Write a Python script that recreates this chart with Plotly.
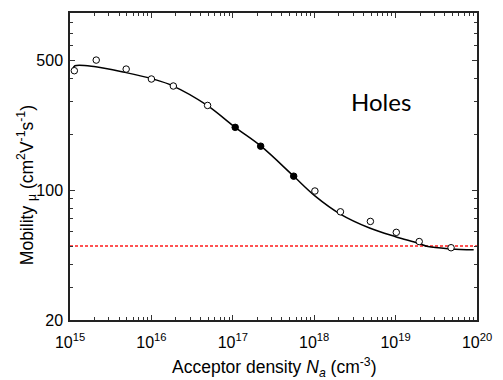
import plotly.graph_objects as go

# Open-circle data (acceptor density cm^-3, mobility cm^2/Vs)
open_N = [1.13e15, 2.1e15, 4.9e15, 1.0e16, 1.86e16, 4.9e16, 1.02e18, 2.1e18, 4.9e18, 1.02e19, 1.95e19, 4.8e19]
open_mu = [440, 502, 449, 397, 364, 286, 99, 76.5, 67.9, 59.3, 52.9, 49.0]

# Filled-circle data
filled_N = [1.07e17, 2.2e17, 5.6e17]
filled_mu = [218, 172.6, 119]

# Fitted curve
fit_N = [1.08e15, 1.15e15, 2.07e15, 4.73e15, 1.09e16, 1.8e16, 4.75e16, 1.07e17, 2.22e17,
         5.57e17, 1.02e18, 2.09e18, 4.79e18, 1.0e19, 1.9e19, 2.5e19, 4.8e19, 9.1e19]
fit_mu = [448, 468, 462, 431, 395, 366, 288, 218, 172.6,
          119.2, 93.2, 74.4, 62.6, 56.2, 51.8, 49.7, 48.3, 47.8]

# Reference level (red dashed)
ref_N = [1e15, 1e20]
ref_mu = [50, 50]

x_ticks = [1e15, 1e16, 1e17, 1e18, 1e19, 1e20]
x_ticktext = ["10<sup>15</sup>", "10<sup>16</sup>", "10<sup>17</sup>", "10<sup>18</sup>", "10<sup>19</sup>", "10<sup>20</sup>"]
x_minor = [float(m) * 10.0**e for e in range(15, 20) for m in range(2, 10)]
y_ticks = [20, 100, 500]
y_ticktext = ["20", "100", "500"]
y_minor = [30, 40, 50, 60, 70, 80, 90, 200, 300, 400, 600, 700, 800, 900]

fig = go.Figure()
fig.add_trace(go.Scatter(x=ref_N, y=ref_mu, mode="lines",
                         line=dict(color="#ff1a1a", width=1.5, dash="3px,2px"), showlegend=False))
fig.add_trace(go.Scatter(x=fit_N, y=fit_mu, mode="lines", line_shape="spline",
                         line=dict(color="black", width=1.5), showlegend=False))
fig.add_trace(go.Scatter(x=open_N, y=open_mu, mode="markers",
                         marker=dict(symbol="circle", size=6.5, color="white",
                                     line=dict(color="black", width=1)), showlegend=False))
fig.add_trace(go.Scatter(x=filled_N, y=filled_mu, mode="markers",
                         marker=dict(symbol="circle", size=6.5, color="black",
                                     line=dict(color="black", width=1)), showlegend=False))

axis_font = dict(family="Arial, Liberation Sans", size=16, color="black")
fig.update_xaxes(type="log", range=[15, 20], tickvals=x_ticks, ticktext=x_ticktext,
                 ticks="inside", ticklen=5, tickwidth=1, tickcolor="#333",
                 minor=dict(tickvals=x_minor, ticks="inside", ticklen=3, tickwidth=1, tickcolor="#333"),
                 showline=True, linecolor="#222", linewidth=1.5, mirror="allticks",
                 showgrid=False, zeroline=False, tickfont=axis_font, ticklabelstandoff=7)
fig.update_yaxes(type="log", range=[1.30103, 2.95424], tickvals=y_ticks, ticktext=y_ticktext,
                 ticks="inside", ticklen=5, tickwidth=1, tickcolor="#333",
                 minor=dict(tickvals=y_minor, ticks="inside", ticklen=3, tickwidth=1, tickcolor="#333"),
                 showline=True, linecolor="#222", linewidth=1.5, mirror="allticks",
                 showgrid=False, zeroline=False, tickfont=axis_font, ticklabelstandoff=2)

fig.add_annotation(text="Acceptor density <i>N</i><sub><i>a</i></sub> (cm<sup>-3</sup>)",
                   xref="paper", yref="paper", x=0.5, y=-0.155, xanchor="center", yanchor="middle",
                   showarrow=False, font=dict(family="Arial, Liberation Sans", size=17.5, color="black"))
fig.add_annotation(text="Mobility <sub>μ</sub> (cm<sup>2</sup>V<sup>-1</sup>s<sup>-1</sup>)",
                   xref="paper", yref="paper", x=-0.105, y=0.44, xanchor="center", yanchor="middle",
                   textangle=-90, showarrow=False,
                   font=dict(family="Arial, Liberation Sans", size=17.5, color="black"))
fig.add_annotation(text="Holes", xref="paper", yref="paper", x=0.764, y=0.712,
                   xanchor="center", yanchor="middle", showarrow=False,
                   font=dict(family="Lato", size=24, color="black"))

fig.update_layout(width=503, height=380, margin=dict(l=70, r=17, t=11, b=60),
                  plot_bgcolor="white", paper_bgcolor="white")
fig.write_html("out.html")
